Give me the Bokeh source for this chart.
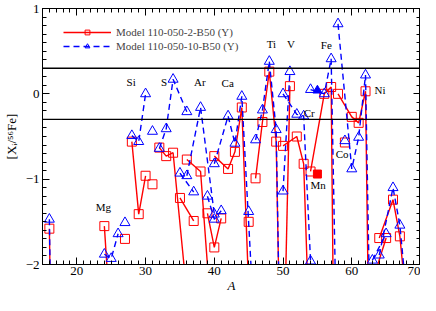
from bokeh.plotting import figure
from bokeh.models import (Range1d, LinearAxis, SingleIntervalTicker, Span, Legend, LegendItem,
                          ColumnDataSource, CustomJSTickFormatter)
from bokeh.embed import file_html
from bokeh.resources import INLINE
from bokeh.core.properties import value

# ---------------- data ----------------
elements = ["O", "O", "O", "Mg", "Mg", "Mg", "Al", "Si", "Si", "Si", "P",
            "S", "S", "S", "S", "Cl", "Cl", "Ar", "Ar", "Ar", "K", "K", "K",
            "Ca", "Ca", "Ca", "Ca", "Ca", "Ca", "Sc", "Ti", "Ti", "Ti", "Ti", "Ti",
            "V", "V", "Cr", "Cr", "Cr", "Cr", "Mn", "Fe", "Fe", "Fe", "Fe", "Co",
            "Ni", "Ni", "Ni", "Ni", "Ni", "Cu", "Cu", "Zn", "Zn", "Zn", "Zn", "Zn"]
mass = [16, 17, 18, 24, 25, 26, 27, 28, 29, 30, 31,
        32, 33, 34, 36, 35, 37, 36, 38, 40, 39, 40, 41,
        40, 42, 43, 44, 46, 48, 45, 46, 47, 48, 49, 50,
        50, 51, 50, 52, 53, 54, 55, 54, 56, 57, 58, 59,
        58, 60, 61, 62, 64, 63, 65, 64, 66, 67, 68, 70]
model_2 = [-1.58, -7.0, -6.0, -1.55, -2.8, -2.6, -1.70, -0.56, -1.41, -0.96, -1.06,
           -0.63, -0.73, -0.69, -2.35, -1.22, -1.49, -0.77, -0.91, -3.1, -1.40, -1.80, -1.46,
           -0.73, -0.88, -0.68, -0.16, -4.4, -4.0, -1.50, -0.99, -0.33, 0.26, -0.56, -4.9,
           -3.5, 0.09, -0.61, -0.50, -0.82, -3.2, -0.94, -0.91, 0.0, 0.08, -8.0, -0.57,
           0.0, -0.27, -0.34, 0.03, -12.0, -2.2, -1.69, -1.69, -1.24, -1.67, -2.5, -3.0]
model_10 = [-1.47, -7.0, -6.0, -1.88, -1.93, -1.64, -1.51, -0.49, -0.56, 0.0, -0.44,
            -0.64, -0.41, 0.17, -0.21, -0.93, -1.15, -0.96, -0.16, -1.41, -1.20, -1.47, -1.37,
            -0.82, -0.26, -0.58, -0.03, -3.0, -3.0, -1.38, -0.54, -0.19, 0.38, -0.42, -5.0,
            -1.14, 0.26, 0.0, -0.24, -0.26, -1.96, 0.04, 0.05, 0.0, 0.41, -3.8, -0.55,
            0.82, -0.88, -0.51, 0.22, -8.7, -1.95, -1.64, -1.89, -1.10, -1.54, -2.4, -3.0]
filled_elements = ["Mn"]
series_names = ["Model 110-050-2-B50 (Y)", "Model 110-050-10-B50 (Y)"]

label_text = ["Mg", "Si", "S", "Ar", "Ca", "Ti", "V", "Cr", "Mn", "Fe", "Co", "Ni"]
label_A = [23.85, 27.9, 32.7, 37.9, 41.95, 48.3, 51.15, 53.8, 55.1, 56.3, 58.6, 64.1]
label_y = [-1.33, 0.14, 0.14, 0.14, 0.13, 0.58, 0.58, -0.23, -1.07, 0.57, -0.71, 0.04]
band = [-0.3, 0.3]
x_ticks_interval = 10
y_ticks_interval = 1

FONT = "Liberation Serif"

p = figure(width=420, height=295, x_range=Range1d(15, 70), y_range=Range1d(-2, 1),
           output_backend="svg", toolbar_location=None,
           min_border_left=40, min_border_right=0, min_border_top=8, min_border_bottom=0,
           background_fill_color="white", border_fill_color="white")
p.xgrid.visible = False
p.ygrid.visible = False
p.outline_line_color = "black"
p.outline_line_width = 1

xt = SingleIntervalTicker(interval=x_ticks_interval, num_minor_ticks=10)
yt = SingleIntervalTicker(interval=y_ticks_interval, num_minor_ticks=10)

def style_axis(ax, ticker, labels=True):
    ax.ticker = ticker
    ax.axis_line_color = "black"
    ax.major_tick_in = 7
    ax.major_tick_out = 0
    ax.minor_tick_in = 4
    ax.minor_tick_out = 0
    ax.major_tick_line_color = "black"
    ax.minor_tick_line_color = "black"
    ax.major_label_text_font = FONT
    ax.major_label_text_font_size = "13px"
    ax.major_label_text_color = "black"
    ax.axis_label_text_font = FONT
    ax.axis_label_text_font_size = "13px"
    ax.axis_label_text_color = "black"
    ax.axis_label_text_font_style = "normal"
    if not labels:
        ax.formatter = CustomJSTickFormatter(code="return ''")
        ax.major_label_text_font_size = "0px"
        ax.major_label_standoff = 0

p.xaxis.axis_label = "A"
style_axis(p.xaxis[0], xt)
p.xaxis.axis_label_text_font_style = "italic"
p.xaxis.major_label_standoff = 2
p.xaxis.axis_label_standoff = 0
p.yaxis.axis_label = "[X\u1d62/\u2075\u2076Fe]"
style_axis(p.yaxis[0], yt)
p.yaxis.major_label_standoff = 3
p.yaxis.axis_label_standoff = 4

top = LinearAxis()
style_axis(top, SingleIntervalTicker(interval=x_ticks_interval, num_minor_ticks=10), labels=False)
p.add_layout(top, "above")
right = LinearAxis()
style_axis(right, SingleIntervalTicker(interval=y_ticks_interval, num_minor_ticks=10), labels=False)
p.add_layout(right, "right")

for b in band:
    p.add_layout(Span(location=b, dimension="width", line_color="black", line_width=1.3))

def group_lines(vals):
    xs, ys = [], []
    order = []
    for e in elements:
        if e not in order:
            order.append(e)
    for e in order:
        gx = [m for m, el in zip(mass, elements) if el == e]
        gy = [v for v, el in zip(vals, elements) if el == e]
        if len(gx) > 1:
            xs.append(gx)
            ys.append(gy)
    return xs, ys

styles = [
    dict(color="red", marker="square", size=9, dash="solid", width=1.4),
    dict(color="blue", marker="triangle", size=10, dash="6 4", width=1.4),
]
items = []
for vals, st, name in zip([model_2, model_10], styles, series_names):
    xs, ys = group_lines(vals)
    lr = p.multi_line(xs=xs, ys=ys, line_color=st["color"], line_width=st["width"],
                      line_dash=st["dash"])
    op = ColumnDataSource(dict(
        x=[m for m, e in zip(mass, elements) if e not in filled_elements],
        y=[v for v, e in zip(vals, elements) if e not in filled_elements]))
    fl = ColumnDataSource(dict(
        x=[m for m, e in zip(mass, elements) if e in filled_elements],
        y=[v for v, e in zip(vals, elements) if e in filled_elements]))
    sr = p.scatter("x", "y", source=op, marker=st["marker"], size=st["size"],
                   line_color=st["color"], fill_color=None, line_width=1)
    p.scatter("x", "y", source=fl, marker=st["marker"], size=st["size"] - 1,
              line_color=st["color"], fill_color=st["color"], line_width=1)
    items.append(LegendItem(label=name, renderers=[lr, sr]))

lab_src = ColumnDataSource(dict(x=label_A, y=label_y, t=label_text))
p.text("x", "y", text="t", source=lab_src, text_font=value(FONT), text_font_size="11px",
       text_align="center", text_baseline="middle", text_color="black")

legend = Legend(items=items, location=(21, 212))
legend.margin = 0
legend.padding = 4
legend.spacing = 2
legend.glyph_width = 48
legend.glyph_height = 12
legend.label_height = 12
legend.label_standoff = 5
legend.label_text_font = FONT
legend.label_text_font_size = "11px"
legend.border_line_color = None
legend.background_fill_alpha = 0
p.add_layout(legend)

open("out.html", "w").write(file_html(p, INLINE))
